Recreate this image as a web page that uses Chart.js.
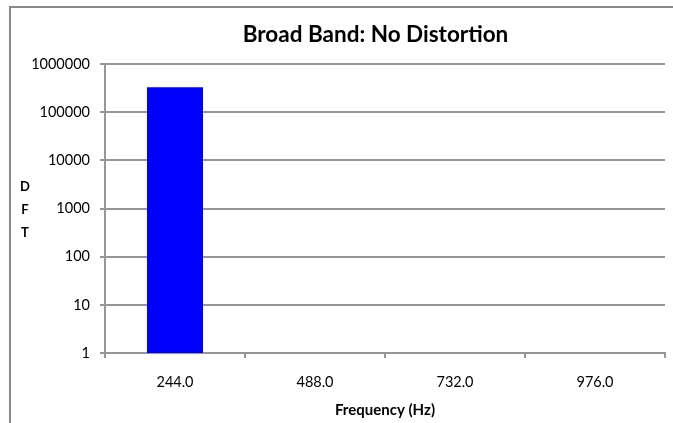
<!DOCTYPE html>
<html>
<head>
<meta charset="utf-8">
<script src="https://cdn.jsdelivr.net/npm/chart.js@4/dist/chart.umd.min.js"></script>
<style>
  html, body { margin: 0; padding: 0; background: #ffffff; }
  #wrap { position: relative; width: 673px; height: 423px; }
  canvas { display: block; }
</style>
</head>
<body>
<div id="wrap"><canvas id="c" width="673" height="423"></canvas></div>
<script>
const categories = ['244.0', '488.0', '732.0', '976.0'];
const dftValues = [330000, 0, 0, 0];
const yTickValues = [1, 10, 100, 1000, 10000, 100000, 1000000];
const chartTitle = 'Broad Band: No Distortion';
const xTitle = 'Frequency (Hz)';
const yTitleLetters = ['D', 'F', 'T'];

const gridGrey = '#969696';
const fontFamily = 'Lato, "Open Sans", sans-serif';

const extras = {
  id: 'extras',
  beforeDraw(chart) {
    const ctx = chart.ctx;
    ctx.save();
    ctx.fillStyle = '#ffffff';
    ctx.fillRect(0, 0, chart.width, chart.height);
    // outer frame (left + top)
    ctx.strokeStyle = '#8a8a8a';
    ctx.lineWidth = 2;
    ctx.beginPath();
    ctx.moveTo(10, chart.height);
    ctx.lineTo(10, 7);
    ctx.lineTo(chart.width, 7);
    ctx.stroke();
    ctx.restore();
  },
  afterDraw(chart) {
    const ctx = chart.ctx;
    const a = chart.chartArea;
    ctx.save();
    ctx.fillStyle = '#000000';
    // chart title
    ctx.font = 'bold 22.5px ' + fontFamily;
    ctx.textAlign = 'center';
    ctx.textBaseline = 'middle';
    ctx.fillText(chartTitle, 375.5, 35);
    // stacked y-axis title
    ctx.font = 'bold 13px ' + fontFamily;
    const cy = (a.top + a.bottom) / 2 + 1;
    const step = 23;
    yTitleLetters.forEach((ch, i) => {
      ctx.fillText(ch, 25, cy + (i - (yTitleLetters.length - 1) / 2) * step);
    });
    ctx.restore();
  }
};

new Chart(document.getElementById('c'), {
  type: 'bar',
  data: {
    labels: categories,
    datasets: [{
      label: 'DFT',
      data: dftValues,
      backgroundColor: '#0000ff',
      borderWidth: 0,
      categoryPercentage: 1.0,
      barPercentage: 0.4
    }]
  },
  options: {
    responsive: false,
    animation: false,
    devicePixelRatio: 1,
    layout: { padding: { left: 0, right: 8, top: 64, bottom: 0 } },
    plugins: {
      legend: { display: false },
      tooltip: { enabled: false },
      title: { display: false }
    },
    scales: {
      x: {
        grid: {
          display: true,
          drawOnChartArea: false,
          drawTicks: true,
          tickLength: 5,
          color: gridGrey,
          lineWidth: 2,
          offset: true
        },
        border: { display: true, color: gridGrey, width: 2 },
        ticks: {
          color: '#000000',
          font: { family: fontFamily, size: 14.5 },
          padding: 16,
          maxRotation: 0,
          autoSkip: false
        },
        title: {
          display: true,
          text: xTitle,
          color: '#000000',
          font: { family: fontFamily, size: 15, weight: 'bold', lineHeight: 1.2 },
          padding: { top: 0, bottom: 4 }
        },
        afterFit(scale) { scale.height = 70; }
      },
      y: {
        type: 'logarithmic',
        min: 1,
        max: 1000000,
        grid: {
          color: gridGrey,
          lineWidth: 2,
          drawTicks: true,
          tickLength: 5
        },
        border: { display: true, color: gridGrey, width: 2 },
        ticks: {
          color: '#000000',
          font: { family: fontFamily, size: 14.5 },
          padding: 10,
          callback: (v) => String(v)
        },
        afterBuildTicks(scale) {
          scale.ticks = yTickValues.map(v => ({ value: v }));
        },
        afterFit(scale) { scale.width = 105; }
      }
    }
  },
  plugins: [extras]
});
</script>
</body>
</html>
